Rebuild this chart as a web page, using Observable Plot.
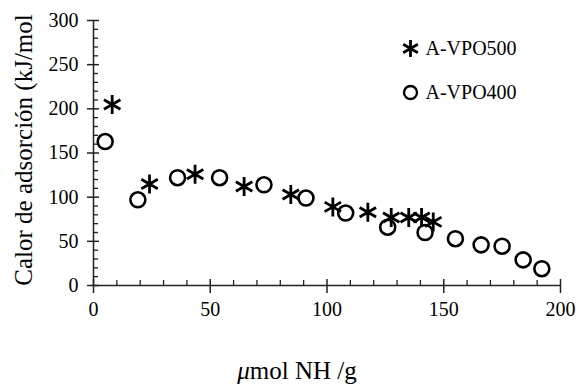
<!DOCTYPE html>
<html><head><meta charset="utf-8">
<script src="https://cdn.jsdelivr.net/npm/d3@7"></script>
<script src="https://cdn.jsdelivr.net/npm/@observablehq/plot@0.6"></script>
<style>
body{margin:0;background:#fff}
</style>
</head><body><div id="chart"></div>
<script>
const seriesNames = ["A-VPO500", "A-VPO400"];
const vpo500x = [8, 24, 43.5, 64.5, 84.5, 102.5, 117.5, 127.5, 135, 140.5, 145.5];
const vpo500y = [205, 115, 126, 112, 103, 89, 83, 77, 77, 77, 72];
const vpo400x = [5, 19, 36, 54, 73, 91, 108, 126, 142, 155, 166, 175, 184, 192];
const vpo400y = [163, 97, 122, 122, 114, 99, 82, 66, 60, 53, 46, 44.5, 29, 19];
const xMajor = [0, 50, 100, 150, 200];
const xMinor = d3.range(0, 201, 10).filter(v => v % 50 !== 0);
const yMajor = [0, 50, 100, 150, 200, 250, 300];
const yMinor = d3.range(0, 301, 10).filter(v => v % 50 !== 0);
const xTitle = "mol NH /g";
const yTitle = "Calor de adsorción (kJ/mol";

const d500 = vpo500x.map((x, i) => ({x, y: vpo500y[i]}));
const d400 = vpo400x.map((x, i) => ({x, y: vpo400y[i]}));
const legend = seriesNames.map((name, i) => ({name, i}));
const serif = "Liberation Serif";

const chart = Plot.plot({
  width: 579, height: 391,
  marginLeft: 93, marginRight: 19, marginTop: 20, marginBottom: 106,
  x: {domain: [0, 200], axis: null},
  y: {domain: [0, 300], axis: null},
  style: {fontSize: "20px", fontFamily: serif, background: "#fff", color: "#000"},
  marks: [
    Plot.ruleY([0], {stroke: "#222", strokeWidth: 1.5}),
    Plot.ruleX([0], {stroke: "#222", strokeWidth: 1.5}),
    Plot.axisX({ticks: xMajor, tickSize: 14, dy: -6, fill: "none", label: null, stroke: "#222", strokeWidth: 1.5}),
    Plot.axisX({ticks: xMinor, tickSize: 5, dy: -5, fill: "none", label: null, stroke: "#222", strokeWidth: 1.3}),
    Plot.axisY({ticks: yMajor, tickSize: 12, dx: 6, fill: "none", label: null, stroke: "#222", strokeWidth: 1.5}),
    Plot.axisY({ticks: yMinor, tickSize: 5, dx: 5, fill: "none", label: null, stroke: "#222", strokeWidth: 1.3}),
    Plot.axisX({ticks: xMajor, tickSize: 0, tickPadding: 16, label: null, fontSize: 20, fontFamily: serif}),
    Plot.axisY({ticks: yMajor, tickSize: 0, tickPadding: 15, label: null, fontSize: 20, fontFamily: serif}),
    Plot.dot(d400, {x: "x", y: "y", r: 7.5, stroke: "#000", strokeWidth: 2.6, fill: "none"}),
    Plot.dot(d500, {x: "x", y: "y", r: 9, symbol: "asterisk", stroke: "#000", strokeWidth: 2.8}),
    Plot.dot(legend.filter(d => d.i === 0), {frameAnchor: "top-left", dx: 317, dy: 28, symbol: "asterisk", r: 8, stroke: "#000", strokeWidth: 2.8}),
    Plot.dot(legend.filter(d => d.i === 1), {frameAnchor: "top-left", dx: 317, dy: 72, symbol: "circle", r: 6.5, stroke: "#000", strokeWidth: 2.4, fill: "none"}),
    Plot.text(legend.filter(d => d.i === 0), {frameAnchor: "top-left", dx: 332, dy: 28, text: "name", textAnchor: "start", lineAnchor: "middle", fontSize: 20, fontFamily: serif}),
    Plot.text(legend.filter(d => d.i === 1), {frameAnchor: "top-left", dx: 332, dy: 72, text: "name", textAnchor: "start", lineAnchor: "middle", fontSize: 20, fontFamily: serif}),
    Plot.text([yTitle], {frameAnchor: "left", dx: -70, dy: -3, rotate: -90, textAnchor: "middle", lineAnchor: "middle", fontSize: 25, fontFamily: serif}),
    Plot.text([xTitle], {frameAnchor: "bottom", dy: 93, dx: -30, fontSize: 25, text: d => d, fontFamily: serif})
  ]
});
document.getElementById("chart").appendChild(chart);
const svg = d3.select(chart);
svg.selectAll("text").filter(function(){ return this.textContent === xTitle; }).each(function(){
  const t = d3.select(this);
  t.text(null);
  t.append("tspan").attr("font-style", "italic").text("μ");
  t.append("tspan").text(xTitle);
});
</script></body></html>
